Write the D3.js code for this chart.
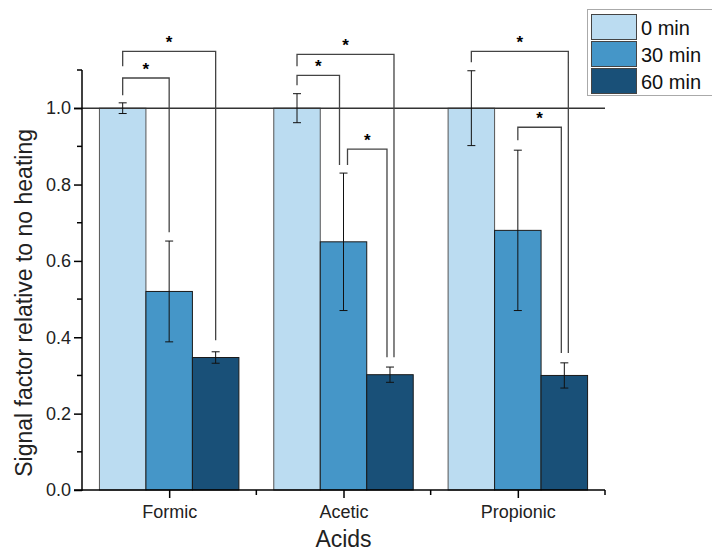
<!DOCTYPE html>
<html>
  <head>
    <meta charset="UTF-8" />
    <style>
      body { margin: 0; background: #fff; }
      svg { display: block; font-family: 'Liberation Sans', Arial, sans-serif; }
    </style>
  </head>
  <body>
    <svg></svg>

    <script src="https://d3js.org/d3.v7.min.js"></script>

    <script>
      let width = 712,
        height = 552

      // data
      let acids = ['Formic', 'Acetic', 'Propionic']
      let times = ['0 min', '30 min', '60 min']
      let means = [
        [1.0, 0.52, 0.347],
        [1.0, 0.65, 0.302],
        [1.0, 0.68, 0.3],
      ]
      let errors = [
        [0.014, 0.132, 0.015],
        [0.038, 0.18, 0.02],
        [0.098, 0.21, 0.033],
      ]
      // significance brackets: acid, from bar, to bar, bar height, left leg end, right leg end, leg offsets
      let brackets = [
        { acid: 0, a: 0, b: 1, h: 1.079, l: 1.034, r: 0.675, oa: 0, ob: 0 },
        { acid: 0, a: 0, b: 2, h: 1.149, l: 1.11, r: 0.392, oa: 0, ob: 0 },
        { acid: 1, a: 0, b: 1, h: 1.086, l: 1.06, r: 0.851, oa: 0, ob: -4 },
        { acid: 1, a: 0, b: 2, h: 1.141, l: 1.11, r: 0.348, oa: 0, ob: 4 },
        { acid: 1, a: 1, b: 2, h: 0.893, l: 0.851, r: 0.348, oa: 4, ob: -3 },
        { acid: 2, a: 0, b: 2, h: 1.149, l: 1.12, r: 0.359, oa: 0, ob: 4 },
        { acid: 2, a: 1, b: 2, h: 0.95, l: 0.916, r: 0.359, oa: 0, ob: -3 },
      ]
      let colors = ['#bbdcf1', '#4596c8', '#195078']

      let svg = d3.select('svg').attr('width', width).attr('height', height)

      let x = d3.scaleLinear().domain([0.5, 3.5]).range([82, 605])
      let y = d3.scaleLinear().domain([0, 1.1]).range([490, 70])

      let groupW = (x(1) - x(0)) * 0.8
      let barW = groupW / 3
      let barX = (i, j) => x(i + 1) - groupW / 2 + j * barW
      let barC = (i, j) => barX(i, j) + barW / 2

      let rows = []
      acids.forEach((a, i) =>
        times.forEach((t, j) =>
          rows.push({ i, j, v: means[i][j], e: errors[i][j] })
        )
      )

      // bars
      svg
        .append('g')
        .selectAll('rect')
        .data(rows)
        .enter()
        .append('rect')
        .attr('x', (d) => barX(d.i, d.j))
        .attr('width', barW)
        .attr('y', (d) => y(d.v))
        .attr('height', (d) => y(0) - y(d.v))
        .attr('fill', (d) => colors[d.j])
        .attr('stroke', (d) => (d.j == 0 ? '#555' : '#1a1a1a'))
        .attr('stroke-width', 1)

      // reference line at 1.0
      svg
        .append('line')
        .attr('x1', x(0.5) - 8)
        .attr('x2', x(3.5))
        .attr('y1', y(1))
        .attr('y2', y(1))
        .attr('stroke', '#333')
        .attr('stroke-width', 1.5)

      // error bars
      let eb = svg.append('g').attr('stroke', '#111').attr('stroke-width', 1)
      rows.forEach((d) => {
        let cx = barC(d.i, d.j)
        eb.append('line')
          .attr('x1', cx).attr('x2', cx)
          .attr('y1', y(d.v - d.e)).attr('y2', y(d.v + d.e))
        ;[d.v - d.e, d.v + d.e].forEach((v) => {
          eb.append('line')
            .attr('x1', cx - 4).attr('x2', cx + 4)
            .attr('y1', y(v)).attr('y2', y(v))
        })
      })

      // brackets
      let bg = svg.append('g')
      brackets.forEach((b) => {
        let xa = barC(b.acid, b.a) + b.oa
        let xb = barC(b.acid, b.b) + b.ob
        bg.append('path')
          .attr('d', 'M' + xa + ',' + y(b.l) + 'V' + y(b.h) + 'H' + xb + 'V' + y(b.r))
          .attr('fill', 'none')
          .attr('stroke', '#444')
          .attr('stroke-width', 1.3)
        bg.append('text')
          .attr('x', (xa + xb) / 2)
          .attr('y', y(b.h) - 3)
          .attr('text-anchor', 'middle')
          .attr('font-size', 17)
          .attr('font-weight', 'bold')
          .text('*')
      })

      // y axis
      let yAxis = svg.append('g').attr('transform', 'translate(82,0)')
      yAxis
        .call(
          d3.axisLeft(y).tickValues([0, 0.2, 0.4, 0.6, 0.8, 1.0])
            .tickFormat(d3.format('.1f')).tickSize(8).tickPadding(3)
        )
      yAxis.select('.domain').remove()
      yAxis.append('line').attr('y1', y(0) + 1).attr('y2', y(1.1)).attr('stroke', '#000').attr('stroke-width', 1.5)
      yAxis.selectAll('.tick line').attr('stroke-width', 1.5)
      yAxis.selectAll('.tick text').attr('font-size', 18).attr('fill', '#222')
        .attr('font-family', "'Liberation Sans', Arial, sans-serif")
      yAxis
        .selectAll('.minor')
        .data([0.1, 0.3, 0.5, 0.7, 0.9, 1.1])
        .enter()
        .append('line')
        .attr('x1', -5).attr('x2', 0)
        .attr('y1', (d) => y(d)).attr('y2', (d) => y(d))
        .attr('stroke', '#000').attr('stroke-width', 1.5)

      // x axis
      let xAxis = svg.append('g').attr('transform', 'translate(0,490)')
      xAxis.call(d3.axisBottom(x).tickValues([1, 2, 3]).tickFormat((d) => acids[d - 1]).tickSize(8).tickPadding(7))
      xAxis.select('.domain').remove()
      xAxis.append('line').attr('x1', x(0.5) - 8).attr('x2', x(3.5)).attr('stroke', '#000').attr('stroke-width', 1.5)
      xAxis.selectAll('.tick line').attr('stroke-width', 1.5)
      xAxis.selectAll('.tick text').attr('font-size', 18).attr('fill', '#222')
        .attr('font-family', "'Liberation Sans', Arial, sans-serif")
      xAxis
        .selectAll('.minor')
        .data([1.5, 2.5, 3.5])
        .enter()
        .append('line')
        .attr('x1', (d) => x(d)).attr('x2', (d) => x(d))
        .attr('y1', 0).attr('y2', 5)
        .attr('stroke', '#000').attr('stroke-width', 1.5)

      // axis titles
      svg.append('text')
        .attr('x', x(2)).attr('y', 547)
        .attr('text-anchor', 'middle').attr('font-size', 23).attr('fill', '#222')
        .text('Acids')
      svg.append('text')
        .attr('transform', 'translate(32,' + y(0.49) + ') rotate(-90)')
        .attr('text-anchor', 'middle').attr('font-size', 23).attr('fill', '#222')
        .text('Signal factor relative to no heating')

      // legend
      let lg = svg.append('g')
      lg.append('rect')
        .attr('x', 587.5).attr('y', 9.5).attr('width', 130).attr('height', 86)
        .attr('fill', '#fff').attr('stroke', '#aaa').attr('stroke-width', 1)
      times.forEach((t, j) => {
        lg.append('rect')
          .attr('x', 591.5).attr('y', 14.5 + j * 27).attr('width', 45).attr('height', 25)
          .attr('fill', colors[j]).attr('stroke', '#444').attr('stroke-width', 1)
        lg.append('text')
          .attr('x', 641).attr('y', 34.5 + j * 27)
          .attr('font-size', 20).attr('fill', '#111')
          .text(t)
      })
    </script>
  </body>
</html>
